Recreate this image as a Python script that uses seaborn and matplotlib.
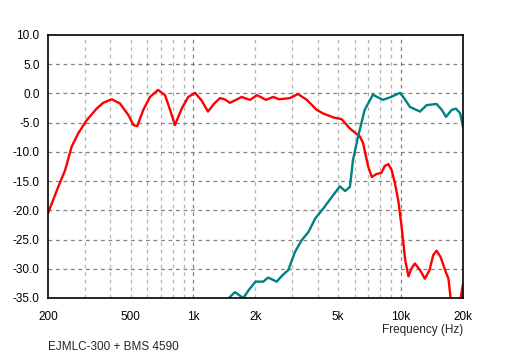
import numpy as np
import pandas as pd
import matplotlib
matplotlib.use("Agg")
import matplotlib.pyplot as plt
import seaborn as sns
from matplotlib.ticker import FixedLocator, NullFormatter, NullLocator

# --- data ---
red_freq = [200, 224, 242, 260, 280, 307, 343, 369, 405, 444, 488, 516, 538, 576,
            620, 678, 733, 775, 818, 882, 948, 1022, 1100, 1180, 1260, 1348, 1420,
            1506, 1610, 1714, 1882, 2034, 2140, 2248, 2432, 2600, 2930, 3206, 3535,
            3940, 4220, 4740, 5200, 5700, 6380, 6600, 6980, 7270, 7640, 8080, 8400,
            8740, 9060, 9400, 9750, 10120, 10530, 10920, 11300, 11730, 12400, 13100,
            13800, 14360, 14920, 15600, 16380, 17020, 17520, 18300, 19380, 20000]
red_db = [-20.5, -16.0, -13.1, -9.1, -6.8, -4.6, -2.6, -1.6, -1.0, -1.7, -3.7, -5.4,
          -5.6, -2.8, -0.6, 0.6, -0.3, -2.8, -5.4, -2.6, -0.6, 0.1, -1.2, -3.1,
          -1.8, -0.8, -1.0, -1.6, -1.1, -0.6, -1.1, -0.3, -0.7, -1.1, -0.6, -1.0,
          -0.8, -0.1, -1.1, -2.8, -3.4, -4.1, -4.4, -6.0, -7.4, -8.5, -12.5, -14.3,
          -13.8, -13.6, -12.4, -12.1, -13.1, -15.4, -18.3, -22.8, -28.5, -31.3,
          -29.9, -29.1, -30.2, -31.7, -30.2, -27.7, -26.9, -28.0, -30.2, -31.7,
          -35.8, -39.0, -35.5, -32.6]

teal_freq = [1440, 1478, 1592, 1746, 1850, 2000, 2180, 2300, 2530, 2700, 2880, 3100,
             3340, 3600, 3880, 4240, 4600, 5100, 5400, 5700, 5900, 6240, 6720, 7360,
             7800, 8240, 9000, 9940, 10400, 11100, 12400, 13370, 14920, 15800, 16560,
             17660, 18500, 19380, 20000]
teal_db = [-36.0, -35.1, -34.0, -35.0, -33.7, -32.2, -32.2, -31.5, -32.2, -31.1,
           -30.2, -27.1, -25.1, -23.7, -21.4, -19.7, -18.0, -15.9, -16.7, -16.0,
           -11.4, -7.4, -2.8, -0.2, -0.7, -1.1, -0.6, 0.1, -0.8, -2.3, -3.1, -2.0,
           -1.8, -2.8, -4.0, -2.8, -2.6, -3.4, -5.7]

xtick_vals = [200, 500, 1000, 2000, 5000, 10000, 20000]
xtick_labels = ["200", "500", "1k", "2k", "5k", "10k", "20k"]
ytick_vals = [10, 5, 0, -5, -10, -15, -20, -25, -30, -35]

df = pd.concat([
    pd.DataFrame({"freq": red_freq, "db": red_db, "series": "woofer"}),
    pd.DataFrame({"freq": teal_freq, "db": teal_db, "series": "tweeter"}),
])

sns.set_style("white")
plt.rcParams["font.family"] = ["Liberation Sans", "DejaVu Sans"]

fig = plt.figure(figsize=(5.12, 3.58), dpi=100)
ax = fig.add_axes([48 / 512, 1 - 298 / 358, (463 - 48) / 512, (298 - 35) / 358])

sns.lineplot(data=df, x="freq", y="db", hue="series",
             palette={"woofer": "#ff0000", "tweeter": "#008080"},
             linewidth=1.7, legend=False, ax=ax, sort=False, estimator=None)

ax.set_xscale("log")
ax.set_xlim(200, 20000)
ax.set_ylim(-35, 10)

# grid lines
minor = [300, 400, 500, 600, 700, 800, 900, 2000, 3000, 4000, 5000, 6000, 7000,
         8000, 9000]
for v in minor:
    ax.axvline(v, color="#b4b4b4", lw=0.9, ls=(0, (3, 3)), zorder=0)
for v in [1000, 10000]:
    ax.axvline(v, color="#808080", lw=0.9, ls=(0, (3, 3)), zorder=0)
for v in ytick_vals[1:-1]:
    ax.axhline(v, color="#808080", lw=0.9, ls=(0, (3, 3)), zorder=0)

ax.xaxis.set_major_locator(FixedLocator(xtick_vals))
ax.set_xticklabels(xtick_labels)
ax.xaxis.set_minor_locator(NullLocator())
ax.xaxis.set_minor_formatter(NullFormatter())
ax.set_yticks(ytick_vals)
ax.set_yticklabels([f"{v:.1f}" for v in ytick_vals])
ax.tick_params(axis="both", length=0, labelsize=8.5, colors="#000000")
ax.tick_params(axis="x", pad=9)
ax.tick_params(axis="y", pad=6)

for s in ax.spines.values():
    s.set_color("black")
    s.set_linewidth(1.2)
    s.set_visible(True)

ax.set_xlabel("")
ax.set_ylabel("")
fig.text(463 / 512, 1 - 330 / 358, "Frequency (Hz)", ha="right", va="center",
         fontsize=8.5)
fig.text(48 / 512, 1 - 347 / 358, "EJMLC-300 + BMS 4590", ha="left", va="center",
         fontsize=8.5)

fig.savefig("out.png", dpi=100)
